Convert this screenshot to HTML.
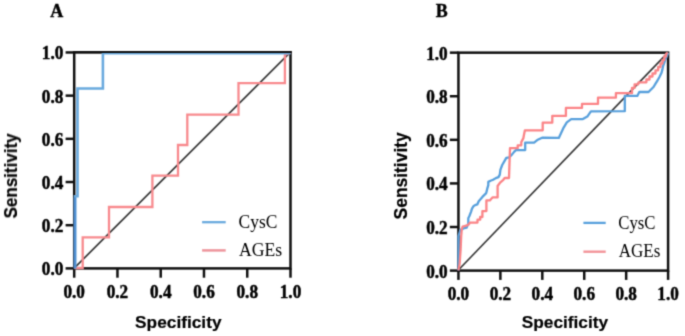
<!DOCTYPE html>
<html><head><meta charset="utf-8"><title>ROC curves</title>
<style>
html,body{margin:0;padding:0;background:#fff;}
body{width:685px;height:336px;overflow:hidden;}
svg{display:block;}
.serifb{font-family:"Liberation Serif",serif;font-weight:bold;}
.serif{font-family:"Liberation Serif",serif;}
.sansb{font-family:"Liberation Sans",sans-serif;font-weight:bold;}
</style></head><body>
<svg width="685" height="336" viewBox="0 0 685 336">
<defs><filter id="bl" x="0" y="0" width="100%" height="100%" filterUnits="userSpaceOnUse" color-interpolation-filters="sRGB"><feConvolveMatrix order="3" kernelMatrix="1 4 1 4 16 4 1 4 1" divisor="36" edgeMode="none"/></filter></defs>
<rect width="685" height="336" fill="#fff"/>
<g filter="url(#bl)">
<text class="serifb" x="50.2" y="16.7" font-size="18" fill="#000" stroke="#000" stroke-width="0.4">A</text>
<text class="serifb" x="435.8" y="16.9" font-size="17.9" fill="#000" stroke="#000" stroke-width="0.4">B</text>
<g fill="none" stroke-linejoin="miter" stroke-linecap="butt">
<line x1="74.2" y1="268.2" x2="290.5" y2="52.2" stroke="#383838" stroke-width="1.7"/>
</g>
<g stroke="#101010" stroke-width="2.5" fill="none">
<rect x="74.20" y="52.45" width="216.30" height="215.95"/>
<line x1="74.20" y1="268.40" x2="74.20" y2="277.70"/>
<line x1="65.60" y1="268.40" x2="74.20" y2="268.40"/>
<line x1="117.46" y1="268.40" x2="117.46" y2="277.70"/>
<line x1="65.60" y1="225.21" x2="74.20" y2="225.21"/>
<line x1="160.72" y1="268.40" x2="160.72" y2="277.70"/>
<line x1="65.60" y1="182.02" x2="74.20" y2="182.02"/>
<line x1="203.98" y1="268.40" x2="203.98" y2="277.70"/>
<line x1="65.60" y1="138.83" x2="74.20" y2="138.83"/>
<line x1="247.24" y1="268.40" x2="247.24" y2="277.70"/>
<line x1="65.60" y1="95.64" x2="74.20" y2="95.64"/>
<line x1="290.50" y1="268.40" x2="290.50" y2="277.70"/>
<line x1="65.60" y1="52.45" x2="74.20" y2="52.45"/>
</g>
<polyline points="74.2,268.0 82.7,268.0 82.7,237.4 109.0,237.4 109.0,207.0 152.4,207.0 152.4,175.6 178.0,175.6 178.0,145.0 187.3,145.0 187.3,114.7 238.5,114.7 238.5,83.2 284.9,83.2 284.9,55.0 290.5,52.5" fill="none" stroke="#f88a8e" stroke-width="2.3"/>
<polyline points="75.0,268.4 75.0,196.3 77.5,196.3 77.5,88.5 102.9,88.5 102.9,53.3 290.5,53.3" fill="none" stroke="#6aaade" stroke-width="2.6"/>
<line x1="75.0" y1="268.4" x2="75.0" y2="197.4" stroke="#4f8fd2" stroke-width="2.6"/>
<line x1="72.95" y1="52.05" x2="291.75" y2="52.05" stroke="#101010" stroke-width="2.1"/>
<g class="serifb" font-size="18.5" fill="#000" stroke="#000" stroke-width="0.5">
<text transform="translate(74.20,297.60) scale(0.930,1)" text-anchor="middle">0.0</text>
<text transform="translate(63.30,275.40) scale(0.930,1)" text-anchor="end">0.0</text>
<text transform="translate(117.46,297.60) scale(0.930,1)" text-anchor="middle">0.2</text>
<text transform="translate(63.30,232.21) scale(0.930,1)" text-anchor="end">0.2</text>
<text transform="translate(160.72,297.60) scale(0.930,1)" text-anchor="middle">0.4</text>
<text transform="translate(63.30,189.02) scale(0.930,1)" text-anchor="end">0.4</text>
<text transform="translate(203.98,297.60) scale(0.930,1)" text-anchor="middle">0.6</text>
<text transform="translate(63.30,145.83) scale(0.930,1)" text-anchor="end">0.6</text>
<text transform="translate(247.24,297.60) scale(0.930,1)" text-anchor="middle">0.8</text>
<text transform="translate(63.30,102.64) scale(0.930,1)" text-anchor="end">0.8</text>
<text transform="translate(290.50,297.60) scale(0.930,1)" text-anchor="middle">1.0</text>
<text transform="translate(63.30,59.45) scale(0.930,1)" text-anchor="end">1.0</text>
</g>
<line x1="202.1" y1="222.2" x2="225.7" y2="222.2" stroke="#6aaade" stroke-width="2.3"/>
<line x1="202.1" y1="250.4" x2="225.7" y2="250.4" stroke="#ee959c" stroke-width="2.5"/>
<g class="serif" font-size="18.3" fill="#000">
<text transform="translate(238.6,227.8) scale(0.955,1)">CysC</text>
<text transform="translate(239.1,255.6) scale(0.965,1)">AGEs</text>
</g>
<text class="sansb" x="135.1" y="328" font-size="17.3" fill="#000" stroke="#000" stroke-width="0.2">Specificity</text>
<text class="sansb" transform="translate(16.6,218.4) rotate(-90) scale(1.0,1.1)" x="0" y="0" font-size="17" fill="#000" stroke="#000" stroke-width="0.2">Sensitivity</text>
<line x1="458.4" y1="270.0" x2="668.1" y2="52.4" stroke="#383838" stroke-width="1.7"/>
<g stroke="#101010" stroke-width="2.5" fill="none">
<rect x="458.45" y="52.65" width="209.65" height="217.95"/>
<line x1="458.45" y1="270.60" x2="458.45" y2="279.90"/>
<line x1="449.85" y1="270.60" x2="458.45" y2="270.60"/>
<line x1="500.38" y1="270.60" x2="500.38" y2="279.90"/>
<line x1="449.85" y1="227.01" x2="458.45" y2="227.01"/>
<line x1="542.31" y1="270.60" x2="542.31" y2="279.90"/>
<line x1="449.85" y1="183.42" x2="458.45" y2="183.42"/>
<line x1="584.24" y1="270.60" x2="584.24" y2="279.90"/>
<line x1="449.85" y1="139.83" x2="458.45" y2="139.83"/>
<line x1="626.17" y1="270.60" x2="626.17" y2="279.90"/>
<line x1="449.85" y1="96.24" x2="458.45" y2="96.24"/>
<line x1="668.10" y1="270.60" x2="668.10" y2="279.90"/>
<line x1="449.85" y1="52.65" x2="458.45" y2="52.65"/>
</g>
<polyline points="458.5,270.4 458.5,236.0 460.3,230.0 463.5,228.4 466.7,227.6 468.3,223.6 468.3,218.2 469.4,216.0 471.0,211.8 472.0,208.6 473.7,205.9 475.8,204.8 477.4,204.3 478.7,201.2 482.4,196.9 486.2,193.1 487.2,188.9 488.3,185.1 488.3,181.9 490.5,180.8 493.1,179.8 495.8,178.1 498.5,177.1 499.8,174.6 500.4,169.8 502.2,165.0 504.6,160.9 506.3,157.9 509.3,157.3 511.7,154.9 514.1,151.9 515.9,150.1 525.2,150.1 525.2,142.6 534.1,142.6 537.8,139.7 542.1,137.7 558.8,137.9 563.2,128.4 566.8,122.4 571.2,119.1 582.9,119.1 587.3,116.6 590.9,111.4 624.8,111.2 624.8,95.9 637.3,95.9 639.3,92.0 648.5,92.0 651.0,89.5 653.5,87.0 656.0,82.8 657.5,80.5 659.6,76.7 661.4,73.1 662.4,69.6 663.1,66.0 663.9,63.9 665.0,60.5 666.3,57.5 667.5,54.5 668.4,52.8" fill="none" stroke="#58a0dc" stroke-width="2.3" stroke-linejoin="round"/>
<polyline points="458.4,270.4 459.6,264.0 460.6,250.0 461.2,236.0 461.8,229.0 462.6,226.6 466.2,225.7 468.8,224.4 469.9,222.6 477.5,222.6 477.5,219.7 480.2,219.7 480.2,217.0 482.4,217.0 482.4,211.1 486.4,211.1 486.4,200.4 489.9,200.4 491.3,198.8 492.7,197.4 497.6,197.4 497.6,186.0 500.4,182.3 503.3,179.8 504.7,178.0 509.0,178.0 509.6,160.0 510.0,148.2 517.7,148.2 517.7,145.3 521.3,145.3 521.3,142.1 523.4,138.1 523.6,136.7 524.9,130.3 542.7,130.3 542.7,122.7 552.3,122.7 552.3,115.8 565.9,115.9 565.9,107.9 582.0,107.9 582.0,103.9 598.0,103.9 598.0,97.7 615.9,97.7 615.9,93.2 632.0,93.2 632.0,87.9 634.6,87.9 634.6,84.3 638.2,84.3 638.5,82.3 646.4,82.3 646.4,79.5 649.5,79.5 649.5,76.5 652.5,76.5 652.5,73.5 655.5,73.5 655.5,70.3 658.2,70.3 658.2,67.0 660.5,67.0 660.5,63.5 662.5,63.5 662.5,60.0 664.3,60.0 664.3,56.5 666.0,56.5 666.0,54.0 667.8,52.6" fill="none" stroke="#fb8487" stroke-width="2.3" stroke-linejoin="round"/>
<g class="serifb" font-size="18.5" fill="#000" stroke="#000" stroke-width="0.5">
<text transform="translate(458.45,299.90) scale(0.930,1)" text-anchor="middle">0.0</text>
<text transform="translate(447.70,277.60) scale(0.930,1)" text-anchor="end">0.0</text>
<text transform="translate(500.38,299.90) scale(0.930,1)" text-anchor="middle">0.2</text>
<text transform="translate(447.70,234.01) scale(0.930,1)" text-anchor="end">0.2</text>
<text transform="translate(542.31,299.90) scale(0.930,1)" text-anchor="middle">0.4</text>
<text transform="translate(447.70,190.42) scale(0.930,1)" text-anchor="end">0.4</text>
<text transform="translate(584.24,299.90) scale(0.930,1)" text-anchor="middle">0.6</text>
<text transform="translate(447.70,146.83) scale(0.930,1)" text-anchor="end">0.6</text>
<text transform="translate(626.17,299.90) scale(0.930,1)" text-anchor="middle">0.8</text>
<text transform="translate(447.70,103.24) scale(0.930,1)" text-anchor="end">0.8</text>
<text transform="translate(668.10,299.90) scale(0.930,1)" text-anchor="middle">1.0</text>
<text transform="translate(447.70,59.65) scale(0.930,1)" text-anchor="end">1.0</text>
</g>
<line x1="583.4" y1="222.9" x2="605.7" y2="222.9" stroke="#58a0dc" stroke-width="2.3"/>
<line x1="583.4" y1="251.7" x2="605.7" y2="251.7" stroke="#f29398" stroke-width="2.4"/>
<g class="serif" font-size="18.5" fill="#000">
<text transform="translate(618.3,228.7) scale(0.905,1)">CysC</text>
<text transform="translate(618.7,256.9) scale(0.92,1)">AGEs</text>
</g>
<text class="sansb" x="521.7" y="327.6" font-size="17.3" fill="#000" stroke="#000" stroke-width="0.2">Specificity</text>
<text class="sansb" transform="translate(407.4,219.4) rotate(-90) scale(1.025,1.13)" x="0" y="0" font-size="17" fill="#000" stroke="#000" stroke-width="0.2">Sensitivity</text>
</g></svg>
</body></html>
